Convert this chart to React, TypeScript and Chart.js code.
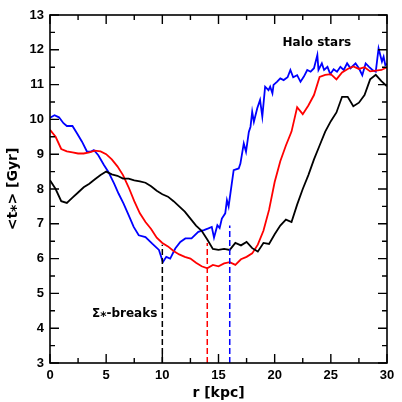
import React, { useEffect, useRef } from "react";
import { Chart, registerables } from "chart.js";

Chart.register(...registerables);

const blackR = [0,0.5,1,1.5,2,2.5,3,3.5,4,4.5,5,5.5,6,6.5,7,7.5,8,8.5,9,9.5,10,10.5,11,11.5,12,12.5,13,13.5,14,14.5,15,15.5,16,16.5,17,17.5,18,18.5,19,19.5,20,20.5,21,21.5,22,22.5,23,23.5,24,24.5,25,25.5,26,26.5,27,27.5,28,28.5,29,29.5,30];
const blackT = [8.25,8.0,7.65,7.6,7.75,7.9,8.05,8.15,8.28,8.4,8.5,8.42,8.38,8.3,8.3,8.25,8.22,8.18,8.08,7.95,7.85,7.78,7.65,7.5,7.35,7.15,6.95,6.8,6.55,6.28,6.25,6.28,6.25,6.45,6.38,6.48,6.3,6.2,6.45,6.42,6.7,6.95,7.12,7.05,7.55,8.0,8.4,8.85,9.25,9.65,9.95,10.2,10.65,10.65,10.38,10.48,10.7,11.15,11.28,11.1,10.95];

const redR = [0,0.5,1,1.5,2,2.5,3,3.5,4,4.5,5,5.5,6,6.5,7,7.5,8,8.5,9,9.5,10,10.5,11,11.5,12,12.5,13,13.5,14,14.5,15,15.5,16,16.5,17,17.5,18,18.5,19,19.5,20,20.5,21,21.5,22,22.5,23,23.5,24,24.5,25,25.5,26,26.5,27,27.5,28,28.5,29,29.5,30];
const redT = [9.7,9.5,9.15,9.08,9.05,9.02,9.02,9.05,9.1,9.08,9.0,8.85,8.65,8.4,8.05,7.65,7.3,7.05,6.85,6.6,6.45,6.35,6.22,6.12,6.05,6.0,5.88,5.78,5.72,5.82,5.78,5.86,5.9,5.82,5.98,6.05,6.15,6.4,6.8,7.4,8.2,8.8,9.25,9.65,10.35,10.15,10.4,10.7,11.22,11.28,11.3,11.15,11.35,11.45,11.52,11.45,11.5,11.38,11.4,11.42,11.5];

const blueR = [0,0.4,0.8,1.2,1.5,2.0,2.4,2.85,3.3,3.6,3.9,4.3,4.8,5.2,5.7,6.1,6.55,7.0,7.45,7.9,8.5,9.1,9.7,10.05,10.35,10.7,11.15,11.6,12.05,12.6,13.2,13.7,14.1,14.4,14.6,14.9,15.1,15.3,15.6,15.75,15.9,16.2,16.35,16.8,16.95,17.25,17.45,17.7,17.85,18.0,18.15,18.45,18.7,18.9,19.15,19.45,19.6,19.8,19.9,20.2,20.5,20.8,21.15,21.4,21.65,22.0,22.3,22.6,22.9,23.2,23.5,23.8,23.9,24.2,24.4,24.7,24.95,25.25,25.55,25.85,26.15,26.45,26.75,27.2,27.5,27.8,28.1,28.4,28.7,29.0,29.25,29.4,29.55,29.7,29.85,30];
const blueT = [10.05,10.12,10.06,9.89,9.81,9.81,9.6,9.36,9.07,9.07,9.12,8.97,8.69,8.49,8.16,7.87,7.58,7.25,6.91,6.67,6.62,6.43,6.25,5.9,6.05,6.0,6.29,6.48,6.58,6.58,6.77,6.82,6.87,6.91,6.6,6.96,6.88,7.15,7.3,7.68,7.5,8.2,8.54,8.59,8.73,9.31,9.07,9.64,9.79,10.22,9.93,10.32,10.56,10.08,10.94,10.84,10.94,10.75,10.99,11.08,11.18,11.13,11.21,11.42,11.21,11.27,11.08,11.23,11.42,11.37,11.47,11.85,11.42,11.61,11.42,11.51,11.3,11.44,11.37,11.51,11.42,11.61,11.47,11.61,11.47,11.27,11.61,11.51,11.42,11.37,12.04,11.85,11.66,11.8,11.56,11.6];

const breakR = [10, 14, 16];
const breakTop = [6.4, 6.45, 6.95];
const breakColors = ["#000000", "#ff0000", "#0000ff"];

const xMin = 0, xMax = 30, yMin = 3, yMax = 13;
const xMajor = [0, 5, 10, 15, 20, 25, 30];
const xMinor = [2.5, 7.5, 12.5, 17.5, 22.5, 27.5];
const yMajor = [3, 4, 5, 6, 7, 8, 9, 10, 11, 12, 13];
const yMinor = [3.5, 4.5, 5.5, 6.5, 7.5, 8.5, 9.5, 10.5, 11.5, 12.5];

const haloLabel = "Halo stars";
const haloPos = [20.7, 12.19];
const breaksLabel = "Σ⁎-breaks";
const breaksPos = [9.55, 4.4];
const xTitle = "r [kpc]";
const yTitle = "<t⁎> [Gyr]";

const FONT = "'DejaVu Sans', sans-serif";

function pts(r: number[], t: number[]) {
  return r.map((v, i) => ({ x: v, y: t[i] }));
}

const framePlugin = {
  id: "frame",
  afterDatasetsDraw(chart: any) {
    const ctx = chart.ctx;
    const { left, right, top, bottom } = chart.chartArea;
    const xs = chart.scales.x;
    const ys = chart.scales.y;
    ctx.save();
    // dashed break lines
    ctx.lineWidth = 1.5;
    ctx.setLineDash([6, 3]);
    breakR.forEach((r, i) => {
      ctx.strokeStyle = breakColors[i];
      const px = xs.getPixelForValue(r);
      ctx.beginPath();
      ctx.moveTo(px, ys.getPixelForValue(yMin));
      ctx.lineTo(px, ys.getPixelForValue(breakTop[i]));
      ctx.stroke();
    });
    ctx.setLineDash([]);
    // frame
    ctx.strokeStyle = "#000";
    ctx.lineWidth = 1.6;
    ctx.strokeRect(left, top, right - left, bottom - top);
    // ticks
    ctx.lineWidth = 1.4;
    const drawX = (v: number, len: number) => {
      const p = xs.getPixelForValue(v);
      ctx.beginPath();
      ctx.moveTo(p, bottom); ctx.lineTo(p, bottom - len);
      ctx.moveTo(p, top); ctx.lineTo(p, top + len);
      ctx.stroke();
    };
    const drawY = (v: number, len: number) => {
      const p = ys.getPixelForValue(v);
      ctx.beginPath();
      ctx.moveTo(left, p); ctx.lineTo(left + len, p);
      ctx.moveTo(right, p); ctx.lineTo(right - len, p);
      ctx.stroke();
    };
    xMajor.forEach((v) => drawX(v, 9));
    xMinor.forEach((v) => drawX(v, 5));
    yMajor.forEach((v) => drawY(v, 9));
    yMinor.forEach((v) => drawY(v, 5));
    // annotations
    ctx.fillStyle = "#000";
    ctx.font = "bold 12px " + FONT;
    ctx.textBaseline = "middle";
    ctx.textAlign = "left";
    ctx.fillText(haloLabel, xs.getPixelForValue(haloPos[0]), ys.getPixelForValue(haloPos[1]));
    ctx.textAlign = "right";
    ctx.fillText(breaksLabel, xs.getPixelForValue(breaksPos[0]), ys.getPixelForValue(breaksPos[1]));
    // axis titles
    ctx.font = "bold 14px " + FONT;
    ctx.textAlign = "center";
    ctx.textBaseline = "alphabetic";
    ctx.fillText(xTitle, (left + right) / 2, 397);
    ctx.translate(17, (top + bottom) / 2);
    ctx.rotate(-Math.PI / 2);
    ctx.fillText(yTitle, 0, 0);
    ctx.restore();
  },
};

export default function App() {
  const ref = useRef<HTMLCanvasElement | null>(null);
  useEffect(() => {
    document.body.style.margin = "0";
    const canvas = ref.current!;
    const chart = new Chart(canvas, {
      type: "line",
      data: {
        datasets: [
          { data: pts(blackR, blackT), borderColor: "#000000", borderWidth: 1.8, pointRadius: 0, tension: 0, fill: false },
          { data: pts(redR, redT), borderColor: "#ff0000", borderWidth: 1.8, pointRadius: 0, tension: 0, fill: false },
          { data: pts(blueR, blueT), borderColor: "#0000ff", borderWidth: 1.8, pointRadius: 0, tension: 0, fill: false },
        ],
      },
      options: {
        animation: false,
        responsive: false,
        maintainAspectRatio: false,
        layout: { padding: { left: 0, right: 15, top: 15, bottom: 0 } },
        plugins: { legend: { display: false }, tooltip: { enabled: false } },
        scales: {
          x: {
            type: "linear",
            min: xMin,
            max: xMax,
            grid: { display: false, drawTicks: false },
            border: { display: false },
            ticks: { stepSize: 5, padding: 5, color: "#000", font: { family: "'Liberation Sans', sans-serif", size: 13, weight: "bold" } },
            afterFit: (s: any) => { s.height = 39; },
          },
          y: {
            type: "linear",
            min: yMin,
            max: yMax,
            grid: { display: false, drawTicks: false },
            border: { display: false },
            ticks: { stepSize: 1, padding: 6, color: "#000", font: { family: "'Liberation Sans', sans-serif", size: 13, weight: "bold" } },
            afterFit: (s: any) => { s.width = 50; },
          },
        },
      },
      plugins: [framePlugin],
    } as any);
    return () => chart.destroy();
  }, []);
  return <canvas ref={ref} width={402} height={402} style={{ display: "block", width: 402, height: 402 }} />;
}
